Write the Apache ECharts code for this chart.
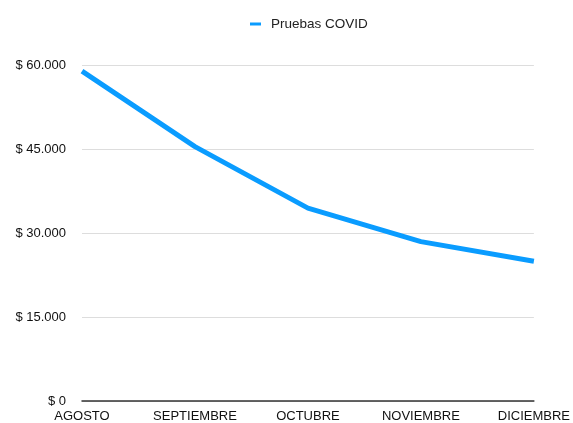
<!DOCTYPE html>
<html>
<head>
<meta charset="utf-8">
<script src="https://cdn.jsdelivr.net/npm/echarts@6/dist/echarts.min.js"></script>
<style>
html,body{margin:0;padding:0;background:#fff;}
#chart{width:573px;height:423px;}
</style>
</head>
<body>
<div id="chart"></div>
<script>
const categories = ["AGOSTO", "SEPTIEMBRE", "OCTUBRE", "NOVIEMBRE", "DICIEMBRE"];
const seriesName = "Pruebas COVID";
const values = [59000, 45500, 34500, 28500, 25000];
const yTicks = [0, 15000, 30000, 45000, 60000];

function fmt(v) {
  return "$ " + String(v).replace(/\B(?=(\d{3})+(?!\d))/g, ".");
}

const chart = echarts.init(document.getElementById("chart"), null, {renderer: "canvas"});
chart.setOption({
  animation: false,
  backgroundColor: "#ffffff",
  textStyle: {fontFamily: "Liberation Sans, Arial, sans-serif"},
  legend: {
    top: 17,
    left: 250,
    padding: 0,
    itemWidth: 11,
    itemHeight: 3,
    itemGap: 10,
    icon: "rect",
    textStyle: {fontSize: 13.5, color: "#222", padding: [0, 0, 0, 5], fontFamily: "Liberation Sans, Arial, sans-serif"},
    data: [seriesName]
  },
  grid: {left: 82, right: 39, top: 65.5, bottom: 21, containLabel: false},
  xAxis: {
    type: "category",
    data: categories,
    boundaryGap: false,
    axisLine: {show: true, lineStyle: {color: "#333", width: 1.5}},
    axisTick: {show: false},
    splitLine: {show: false},
    axisLabel: {margin: 9, fontSize: 13, color: "#111", fontFamily: "Liberation Sans, Arial, sans-serif"}
  },
  yAxis: {
    type: "value",
    min: yTicks[0],
    max: yTicks[yTicks.length - 1],
    interval: 15000,
    axisLine: {show: false},
    axisTick: {show: false},
    splitLine: {show: true, lineStyle: {color: "#dddddd", width: 1}},
    axisLabel: {margin: 16, fontSize: 13, color: "#111", formatter: fmt, fontFamily: "Liberation Sans, Arial, sans-serif"}
  },
  series: [{
    name: seriesName,
    type: "line",
    data: values,
    symbol: "none",
    lineStyle: {width: 5, color: "#0a9cff"},
    itemStyle: {color: "#0a9cff"}
  }]
});
</script>
</body>
</html>
